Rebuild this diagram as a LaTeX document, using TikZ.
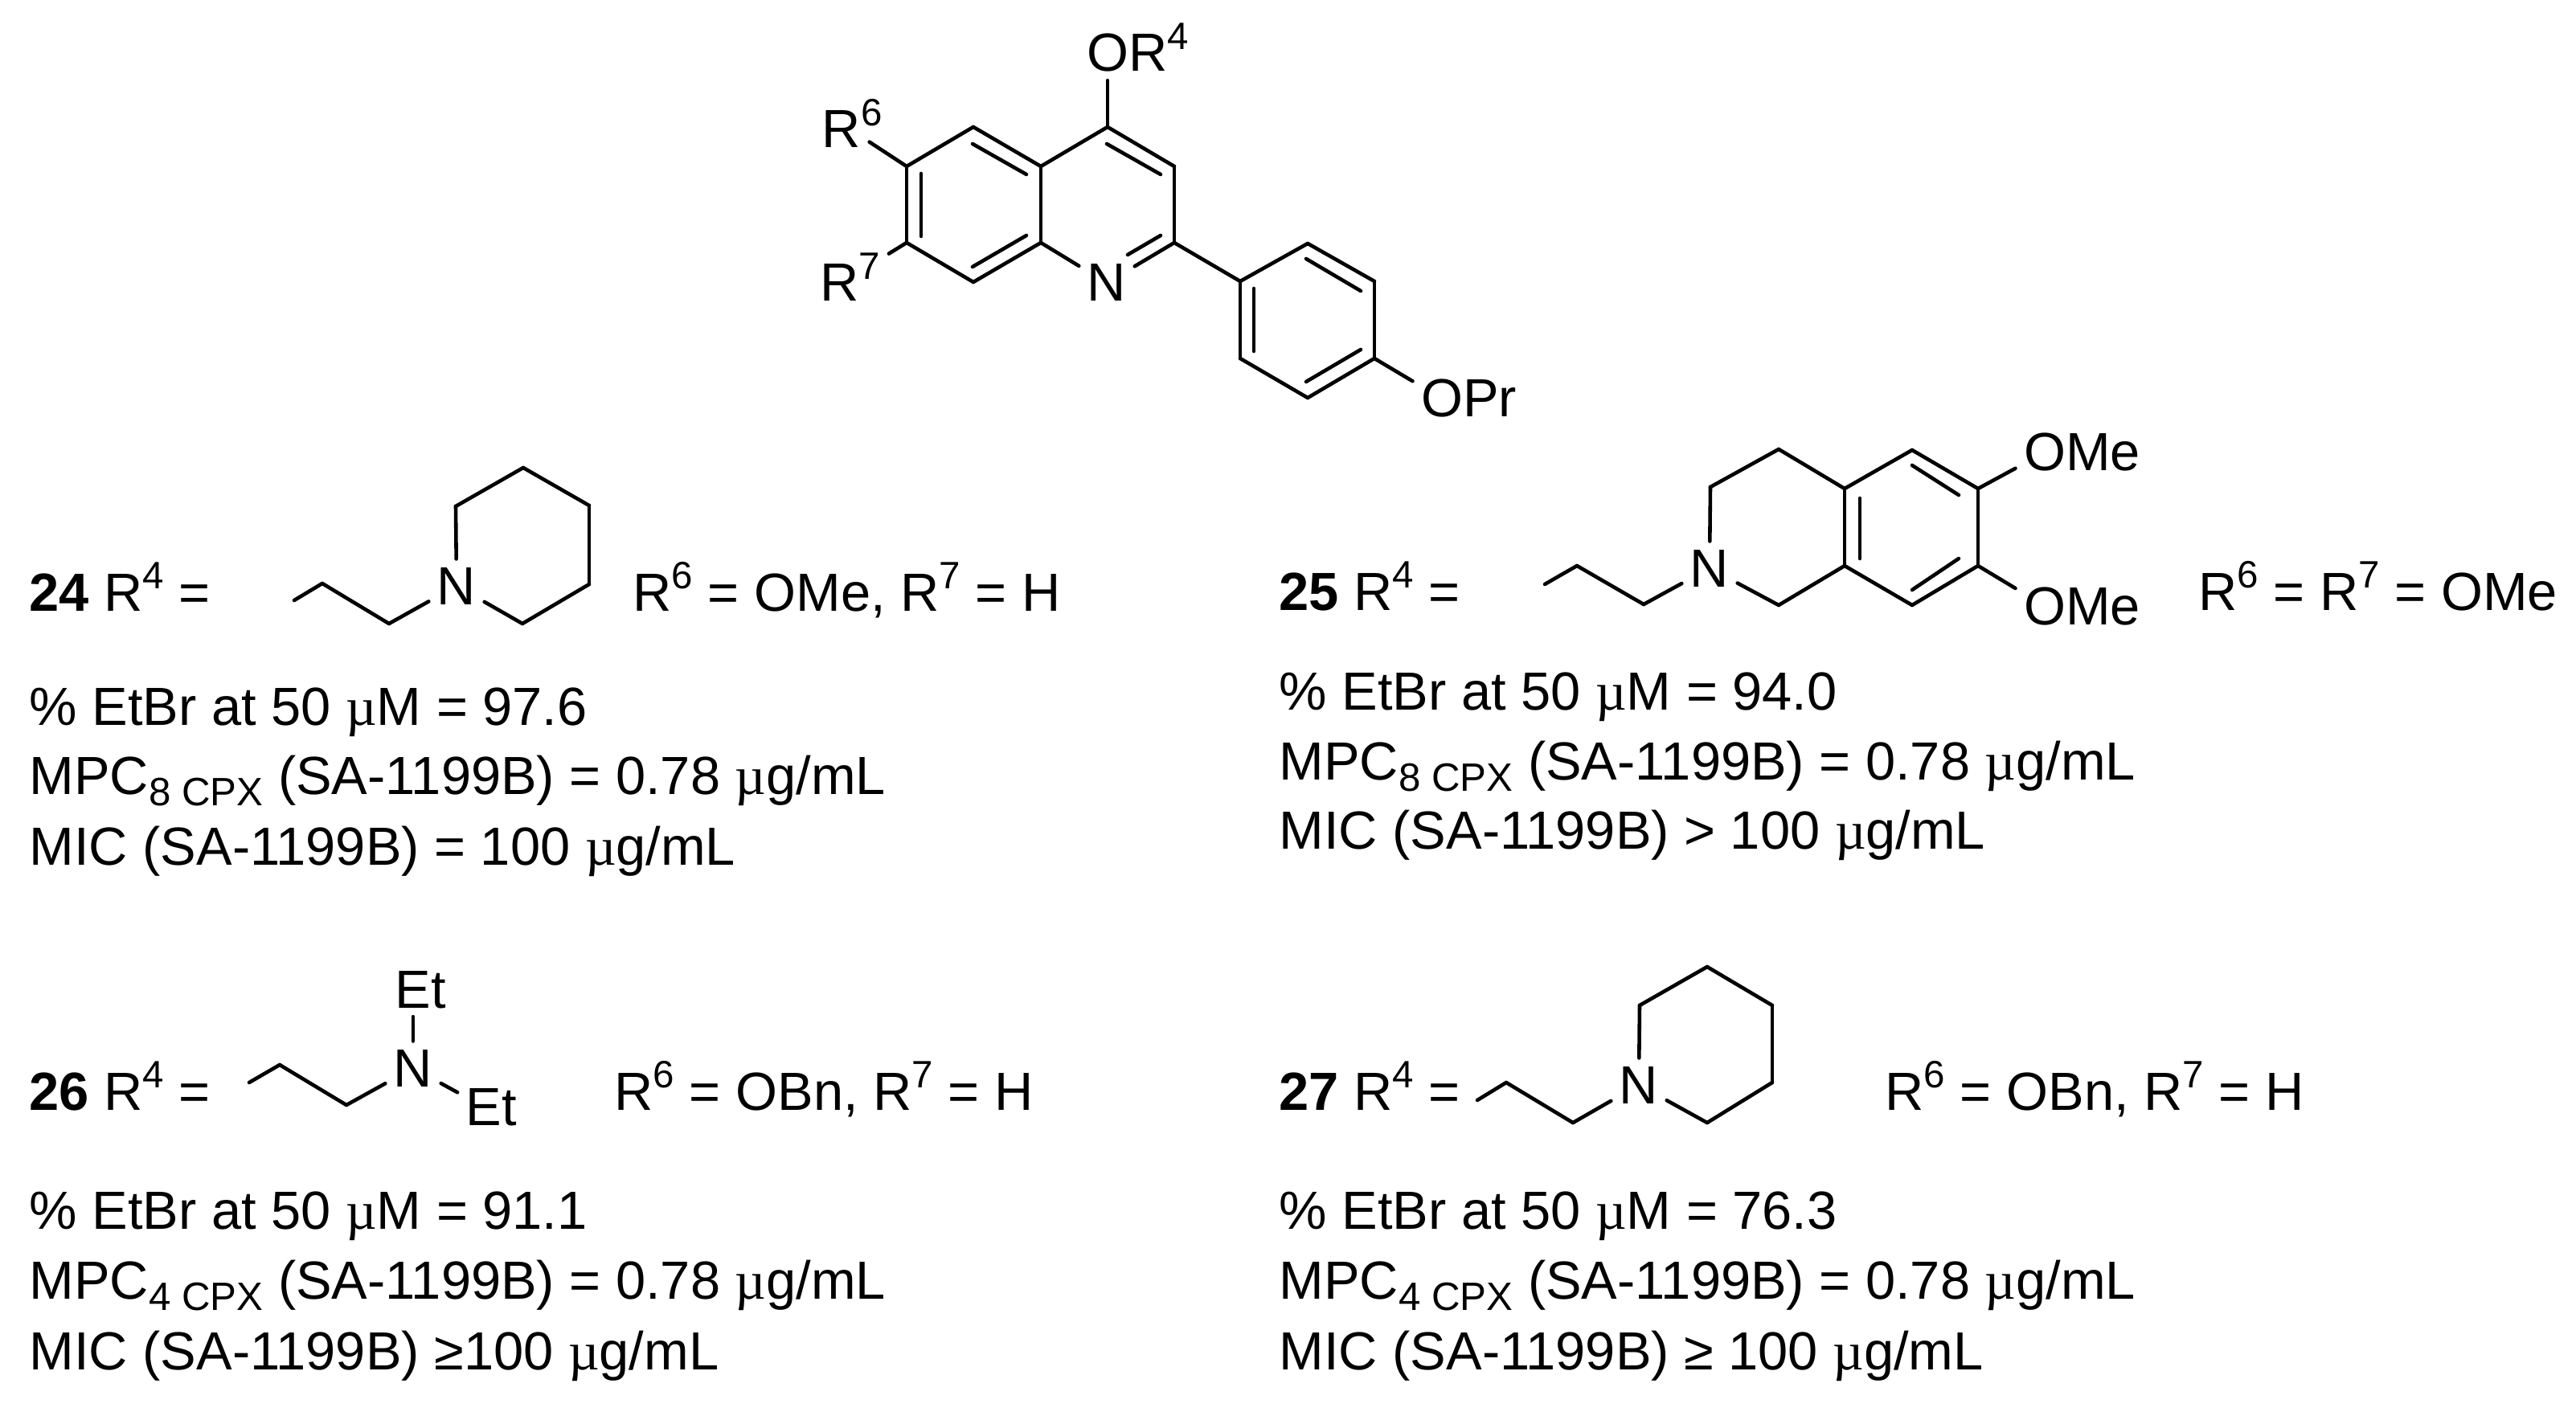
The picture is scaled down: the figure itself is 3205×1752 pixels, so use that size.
\documentclass[tikz,border=0pt]{standalone}
\usepackage{fontspec}
\setmainfont{Liberation Sans}
\newfontfamily\symb{Liberation Serif}
\usepackage{tikz}
\newcommand{\sups}[1]{\raisebox{7.7pt}{\fontsize{13.5}{15}\selectfont #1}}
\newcommand{\subs}[1]{\raisebox{-4pt}{\fontsize{14}{16}\selectfont #1}}
\newcommand{\mc}{{\symb µ}}

\begin{document}
\begin{tikzpicture}[x=.01cm, y=-.01cm]
\tikzstyle{every node} = [font=\fontsize{19}{22}\selectfont]
\tikzstyle{atom} = [anchor=base, inner sep=2.8pt]
\tikzstyle{txt} = [anchor=base west, inner sep=0pt]
\tikzstyle{bond} = [line width=1.3pt, line cap=round]
\useasboundingbox (0, 0) rectangle (3205, 1752);

% quinoline and phenyl
\foreach \name/\x/\y in {q4/1378/158, q3/1461/207, q2/1461/302, q8a/1295/302, q4a/1295/207,
  q5/1211/158, q6/1128/207, q7/1128/302, q8/1211/351,
  p1/1543/350, p2/1627/303, p3/1710/350, p4/1710/446, p5/1627/495, p6/1543/446,
  i1/1210/179, i2/1277/217, i3/1377/179, i4/1444/217, i5/1444/293, i6/1403/317,
  i7/1210/332, i8/1277/293, i9/1146/216, i10/1146/294,
  i11/1625/322, i12/1693/362, i13/1560/359, i14/1560/437, i15/1693/435, i16/1625/475}
\coordinate (\name) at (\x, \y);
\node[atom] (or4) at (1378, 89) {O\rlap{R\sups{4}}};
\node[atom] (r6) at (1047, 184) {R\rlap{\sups{6}}};
\node[atom] (r7) at (1058, 375) {R\sups{7}};
\node[atom] (nq) at (1377, 375) {N};
\node[atom] (opr) at (1794, 519) {O\rlap{Pr}};
\foreach \from/\to in {q4/q3, q3/q2, q2/nq, nq/q8a, q8a/q4a, q4a/q4, q4/or4, q4a/q5, q5/q6, q6/q7,
  q7/q8, q8/q8a, q6/r6, q7/r7, q2/p1, p1/p2, p2/p3, p3/p4, p4/p5, p5/p6, p6/p1, p4/opr,
  i1/i2, i3/i4, i5/i6, i7/i8, i9/i10, i11/i12, i13/i14, i15/i16}
\draw[bond] (\from) -- (\to);

% 24
\foreach \name/\x/\y in {a1/366/747, a2/401/726, a3/484/776, a4/567/630, a5/651/582,
  a6/733/629, a7/733/727, a8/650/776}
\coordinate (\name) at (\x, \y);
\node[atom] (na) at (568, 752) {N};
\foreach \from/\to in {a1/a2, a2/a3, a3/na, na/a4, a4/a5, a5/a6, a6/a7, a7/a8, a8/na}
\draw[bond] (\from) -- (\to);
\node[txt] (t24) at (36, 760) {\textbf{24} R\sups{4} =};
\node[txt] (s24) at (787, 760) {R\sups{6} = OMe, R\sups{7} = H};
\node[txt] (e24) at (36, 902) {\% EtBr at 50 \mc M = 97.6};
\node[txt] (m24) at (36, 988) {MPC\subs{8 CPX} (SA-1199B) = 0.78 \mc g/mL};
\node[txt] (c24) at (36, 1076) {MIC (SA-1199B) = 100 \mc g/mL};

% 25
\foreach \name/\x/\y in {b1/1922/727, b2/1962/704, b3/2045/752, b4/2128/606, b5/2213/559,
  b6/2295/608, b7/2379/560, b8/2461/608, b9/2461/704, b10/2379/753, b11/2295/704, b12/2213/753,
  j1/2379/579, j2/2437/616, j3/2314/620, j4/2314/695, j5/2437/695, j6/2379/734}
\coordinate (\name) at (\x, \y);
\node[atom] (nb) at (2127, 730) {N};
\node[atom] (ome1) at (2544, 586) {O\rlap{Me}};
\node[atom] (ome2) at (2544, 777) {O\rlap{Me}};
\foreach \from/\to in {b1/b2, b2/b3, b3/nb, nb/b4, b4/b5, b5/b6, b6/b7, b7/b8, b8/b9, b9/b10,
  b10/b11, b11/b6, b11/b12, b12/nb, b8/ome1, b9/ome2, j1/j2, j3/j4, j5/j6}
\draw[bond] (\from) -- (\to);
\node[txt] (t25) at (1591, 759) {\textbf{25} R\sups{4} =};
\node[txt] (s25) at (2735, 759) {R\sups{6} = R\sups{7} = OMe};
\node[txt] (e25) at (1591, 883) {\% EtBr at 50 \mc M = 94.0};
\node[txt] (m25) at (1591, 970) {MPC\subs{8 CPX} (SA-1199B) = 0.78 \mc g/mL};
\node[txt] (c25) at (1591, 1056) {MIC (SA-1199B) > 100 \mc g/mL};

% 26
\foreach \name/\x/\y in {d1/310/1347, d2/348/1325, d3/431/1375}
\coordinate (\name) at (\x, \y);
\node[atom] (nd) at (514, 1352) {N};
\node[atom] (et1) at (514, 1254) {E\rlap{t}};
\node[atom] (et2) at (602, 1400) {E\rlap{t}};
\foreach \from/\to in {d1/d2, d2/d3, d3/nd, nd/et1, nd/et2}
\draw[bond] (\from) -- (\to);
\node[txt] (t26) at (36, 1381) {\textbf{26} R\sups{4} =};
\node[txt] (s26) at (764, 1381) {R\sups{6} = OBn, R\sups{7} = H};
\node[txt] (e26) at (36, 1529) {\% EtBr at 50 \mc M = 91.1};
\node[txt] (m26) at (36, 1616) {MPC\subs{4 CPX} (SA-1199B) = 0.78 \mc g/mL};
\node[txt] (c26) at (36, 1704) {MIC (SA-1199B) ≥100 \mc g/mL};

% 27
\foreach \name/\x/\y in {f1/1838/1369, f2/1874/1347, f3/1957/1397, f4/2040/1251, f5/2124/1203,
  f6/2205/1251, f7/2205/1347, f8/2124/1397}
\coordinate (\name) at (\x, \y);
\node[atom] (nf) at (2039, 1373) {N};
\foreach \from/\to in {f1/f2, f2/f3, f3/nf, nf/f4, f4/f5, f5/f6, f6/f7, f7/f8, f8/nf}
\draw[bond] (\from) -- (\to);
\node[txt] (t27) at (1591, 1381) {\textbf{27} R\sups{4} =};
\node[txt] (s27) at (2345, 1381) {R\sups{6} = OBn, R\sups{7} = H};
\node[txt] (e27) at (1591, 1529) {\% EtBr at 50 \mc M = 76.3};
\node[txt] (m27) at (1591, 1616) {MPC\subs{4 CPX} (SA-1199B) = 0.78 \mc g/mL};
\node[txt] (c27) at (1591, 1704) {MIC (SA-1199B) ≥ 100 \mc g/mL};
\end{tikzpicture}
\end{document}
